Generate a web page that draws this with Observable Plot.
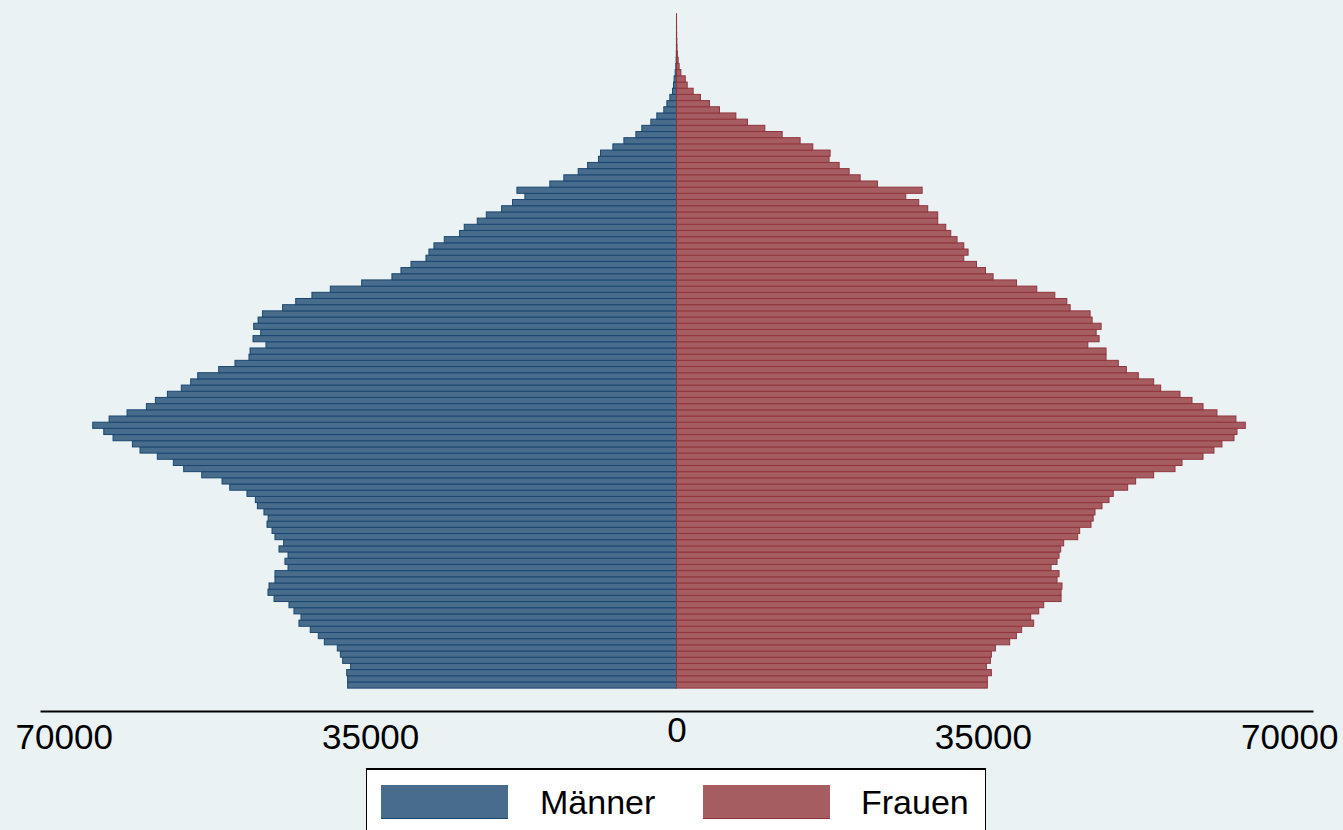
<!DOCTYPE html>
<html>
<head>
<meta charset="utf-8">
<script src="https://cdn.jsdelivr.net/npm/d3@7"></script>
<script src="https://cdn.jsdelivr.net/npm/@observablehq/plot@0.6"></script>
<style>
  html, body { margin: 0; padding: 0; background: #eaf2f3; overflow: hidden; }
  body { width: 1343px; height: 830px; font-family: "Liberation Sans", Arial, sans-serif; }
  #chart svg { display: block; }
  #legend {
    position: absolute; left: 366px; top: 768px; width: 620px; height: 80px;
    background: #ffffff; border: 1.5px solid #000; border-top-width: 2px; box-sizing: border-box;
  }
  .sw { position: absolute; top: 15px; width: 127px; height: 34px; box-sizing: border-box; }
  .lt { position: absolute; top: 14px; font-size: 34px; line-height: 36px; color: #000; }
</style>
</head>
<body>
<div id="chart"></div>
<div id="legend"></div>
<script>
// Age groups (years)
const ages = [0,1,2,3,4,5,6,7,8,9,10,11,12,13,14,15,16,17,18,19,20,21,22,23,24,25,26,27,28,29,
  30,31,32,33,34,35,36,37,38,39,40,41,42,43,44,45,46,47,48,49,50,51,52,53,54,55,56,57,58,59,
  60,61,62,63,64,65,66,67,68,69,70,71,72,73,74,75,76,77,78,79,80,81,82,83,84,85,86,87,88,89,
  90,91,92,93,94,95,96,97,98,99,100,101,102,103,104,105,106,107,108];

// Männer by age
const maenner = [37570,37570,37680,37230,38140,38400,38750,40230,40920,41840,
  43130,42900,43700,44270,45980,46670,46550,45870,45870,44380,
  44730,44380,45410,44880,45870,46210,46780,46650,47130,47880,
  48110,49070,51040,51920,54240,56300,57480,59310,61290,62160,
  64370,65430,66690,64820,62770,60560,59530,58160,56570,55500,
  54700,52300,50440,48840,48720,46900,48380,47500,48300,47800,
  47300,45000,43500,41650,39550,35970,32510,31480,30330,28620,
  28280,27710,26530,24780,24250,22760,21730,19980,18730,17320,
  18230,14470,12870,11230,10160,8910,8680,7270,6010,4640,
  3960,2930,2250,1450,1100,760,460,340,270,150,
  80,40,20,10,6,3,2,1,1];

// Frauen by age
const frauen = [35510,35510,35970,35400,35860,35970,36430,38060,38830,39430,
  40800,40460,41380,41950,43930,43930,44040,43470,43700,42790,
  43470,43700,43890,44230,45830,46060,47350,47600,47810,48610,
  49410,49900,51540,52450,54510,56950,57750,60150,61400,62310,
  63690,64030,64980,63910,61740,60150,58890,57520,55310,54510,
  52760,51390,50470,49070,49070,46990,48280,47940,48510,47480,
  47250,44970,44590,43220,41160,38840,36170,35300,34270,32820,
  33310,32820,32050,31330,30760,29840,29840,28700,27670,26190,
  28060,22950,20980,19720,18580,17430,17550,15570,14120,12070,
  10090,8110,6780,4910,3770,2740,1900,1220,1000,500,
  300,190,100,60,40,20,10,5,3];

const sideTicks = [-70000, -35000, 35000, 70000];
const zeroTick = [0];
const seriesNames = ["Männer", "Frauen"];
const fills = ["#486c8c", "#a65d62"];
const strokes = ["#1a476f", "#90353b"];

const men = ages.map((a, i) => ({age: a, value: -maenner[i]}));
const women = ages.map((a, i) => ({age: a, value: frauen[i]}));

const fontFamily = "'Liberation Sans', Arial, sans-serif";

const chart = Plot.plot({
  width: 1343,
  height: 768,
  marginLeft: 41,
  marginRight: 31,
  marginTop: 14,
  marginBottom: 57,
  style: {background: "#eaf2f3", color: "#000", fontFamily},
  x: {domain: [-72600, 72600]},
  y: {domain: [-4.2, 108.5], axis: null},
  marks: [
    Plot.rect(men, {
      x1: () => 0, x2: "value",
      y1: d => d.age - 0.5, y2: d => d.age + 0.5,
      fill: fills[0], stroke: strokes[0], strokeWidth: 1, inset: 0
    }),
    Plot.rect(women, {
      x1: () => 0, x2: "value",
      y1: d => d.age - 0.5, y2: d => d.age + 0.5,
      fill: fills[1], stroke: strokes[1], strokeWidth: 1, inset: 0
    }),
    Plot.frame({anchor: "bottom", stroke: "#000", strokeWidth: 2}),
    Plot.axisX(sideTicks, {
      tickSize: 0, tickPadding: 13, fontSize: 35, label: null,
      tickFormat: d => String(Math.abs(d)), fontFamily
    }),
    Plot.axisX(zeroTick, {
      tickSize: 0, tickPadding: 6, fontSize: 35, label: null,
      tickFormat: d => String(Math.abs(d)), fontFamily
    })
  ]
});
document.getElementById("chart").appendChild(chart);

// Legend
const legend = document.getElementById("legend");
const swLeft = [14, 336];
const txLeft = [173, 494];
seriesNames.forEach((name, i) => {
  const sw = document.createElement("div");
  sw.className = "sw";
  sw.style.left = swLeft[i] + "px";
  sw.style.background = fills[i];
  sw.style.borderBottom = "1px solid " + strokes[i];
  legend.appendChild(sw);
  const t = document.createElement("div");
  t.className = "lt";
  t.style.left = txLeft[i] + "px";
  t.textContent = name;
  legend.appendChild(t);
});
</script>
</body>
</html>
